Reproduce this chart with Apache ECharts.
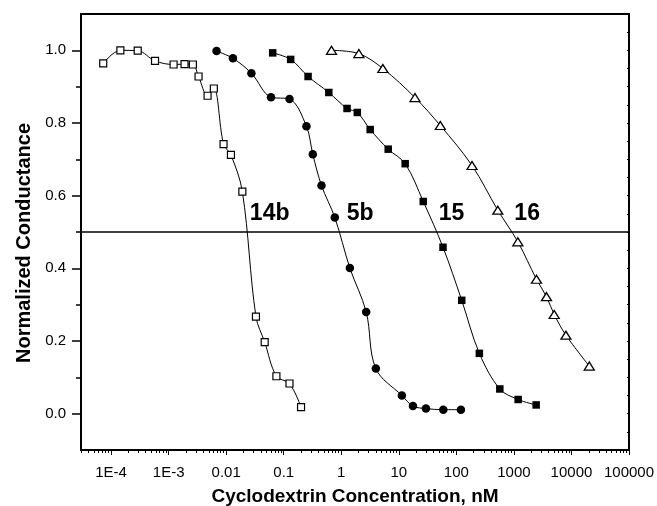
<!DOCTYPE html>
<html>
<head>
<meta charset="utf-8">
<script src="https://cdn.jsdelivr.net/npm/echarts@6/dist/echarts.min.js"></script>
<style>
html,body{margin:0;padding:0;background:#fff;}
#chart{width:657px;height:506px;}
</style>
</head>
<body>
<div id="chart"></div>
<script>
// ---- data (concentration in nM, normalized conductance) ----
var x14b = [7.3e-5, 1.45e-4, 2.9e-4, 5.8e-4, 1.22e-3, 1.89e-3, 2.64e-3, 3.31e-3, 4.75e-3, 6.1e-3, 9.0e-3, 0.0121, 0.0191, 0.0329, 0.0467, 0.0746, 0.126, 0.2];
var y14b = [0.964, 1.0, 0.999, 0.971, 0.961, 0.962, 0.961, 0.928, 0.875, 0.895, 0.742, 0.712, 0.611, 0.267, 0.197, 0.103, 0.083, 0.018];

var x5b = [6.8e-3, 0.0131, 0.0274, 0.0601, 0.126, 0.248, 0.32, 0.453, 0.772, 1.41, 2.71, 3.99, 11.3, 17.6, 29.6, 59.3, 120];
var y5b = [0.998, 0.978, 0.937, 0.871, 0.866, 0.791, 0.714, 0.628, 0.54, 0.401, 0.28, 0.124, 0.05, 0.021, 0.014, 0.011, 0.011];

var x15 = [0.0643, 0.132, 0.265, 0.607, 1.26, 1.9, 3.18, 6.54, 12.9, 26.6, 58.6, 124, 251, 569, 1184, 2436];
var y15 = [0.993, 0.975, 0.928, 0.884, 0.84, 0.829, 0.782, 0.728, 0.688, 0.584, 0.458, 0.312, 0.166, 0.068, 0.039, 0.024];

var x16 = [0.676, 2.02, 5.28, 19.1, 52.6, 187, 525, 1170, 2466, 3683, 5013, 8015, 20400];
var y16 = [1.0, 0.991, 0.95, 0.87, 0.793, 0.683, 0.56, 0.473, 0.37, 0.322, 0.273, 0.216, 0.131];

// curve annotations
var labelNames = ['14b', '5b', '15', '16'];
var labelX = [0.057, 2.13, 82.4, 1698];
var labelY = [0.55, 0.55, 0.55, 0.55];

// axis ticks
var xTickValues = [1e-4, 1e-3, 0.01, 0.1, 1, 10, 100, 1000, 10000, 100000];
var xTickLabels = ['1E-4', '1E-3', '0.01', '0.1', '1', '10', '100', '1000', '10000', '100000'];
var yTickValues = [0, 0.2, 0.4, 0.6, 0.8, 1.0];
var yMinorValues = [0.1, 0.3, 0.5, 0.7, 0.9];
var xMin = 3e-5, xMax = 1e5, yMin = -0.1, yMax = 1.1;
var refLevel = 0.5;

// ---- build ----
var L = function (v) { return Math.log10(v); };
function pairs(xs, ys) { return xs.map(function (x, i) { return [L(x), ys[i]]; }); }
var xMajor = xTickValues.map(L);
var xMinor = [];
for (var e = -5; e < 5; e++) {
  for (var k = 2; k <= 9; k++) {
    var v = k * Math.pow(10, e);
    if (v >= xMin && v <= xMax) xMinor.push(L(v));
  }
}
var labelMap = {};
xMajor.forEach(function (v, i) { labelMap[v.toFixed(3)] = xTickLabels[i]; });

var FONT = '"Liberation Sans", Arial, Helvetica, sans-serif';
var lineBase = { type: 'line', smooth: 0.35, lineStyle: { color: '#000', width: 1 }, z: 3, animation: false };

var chart = echarts.init(document.getElementById('chart'), null, { renderer: 'canvas' });
chart.setOption({
  backgroundColor: '#fff',
  animation: false,
  grid: { left: 81, right: 28, top: 14, bottom: 56, containLabel: false, outerBoundsMode: 'none',
    show: true, borderColor: '#000', borderWidth: 2, backgroundColor: 'transparent' },
  xAxis: [{
    type: 'value', min: L(xMin), max: L(xMax), position: 'bottom',
    name: 'Cyclodextrin Concentration, nM', nameLocation: 'middle', nameGap: 37,
    nameTextStyle: { fontFamily: FONT, fontWeight: 'bold', fontSize: 19, color: '#000' },
    axisLine: { show: true, onZero: false, lineStyle: { color: '#000', width: 2 } },
    axisTick: { show: true, length: 5, lineStyle: { color: '#000', width: 1 }, customValues: xMajor },
    axisLabel: { show: true, margin: 15, fontFamily: FONT, fontSize: 15, color: '#000', customValues: xMajor,
      formatter: function (v) { return labelMap[v.toFixed(3)] || ''; } },
    splitLine: { show: false }
  }, {
    type: 'value', min: L(xMin), max: L(xMax), position: 'bottom',
    axisLine: { show: false, onZero: false },
    axisTick: { show: true, length: 3, lineStyle: { color: '#000', width: 1 }, customValues: xMinor },
    axisLabel: { show: false },
    splitLine: { show: false }
  }],
  yAxis: [{
    type: 'value', min: yMin, max: yMax, position: 'left',
    name: 'Normalized Conductance', nameLocation: 'middle', nameGap: 46,
    nameTextStyle: { fontFamily: FONT, fontWeight: 'bold', fontSize: 20, color: '#000', padding: [0, 22, 0, 0] },
    axisLine: { show: true, onZero: false, lineStyle: { color: '#000', width: 2 } },
    axisTick: { show: true, length: 9, lineStyle: { color: '#000', width: 1.5 }, customValues: yTickValues },
    axisLabel: { show: true, margin: 15, fontFamily: FONT, fontSize: 15, color: '#000', customValues: yTickValues,
      formatter: function (v) { return v.toFixed(1); } },
    splitLine: { show: false }
  }, {
    type: 'value', min: yMin, max: yMax, position: 'left',
    axisLine: { show: false, onZero: false },
    axisTick: { show: true, length: 5, lineStyle: { color: '#000', width: 1.5 }, customValues: yMinorValues },
    axisLabel: { show: false },
    splitLine: { show: false }
  }, {
    type: 'value', min: yMin, max: yMax, position: 'right', interval: 0.05,
    axisLine: { show: true, onZero: false, lineStyle: { color: '#000', width: 2 } },
    axisTick: { show: true, inside: true, length: 2, lineStyle: { color: '#000', width: 1 } },
    axisLabel: { show: false },
    splitLine: { show: false }
  }],
  series: [
    Object.assign({}, lineBase, {
      name: '14b', data: pairs(x14b, y14b), symbol: 'rect', symbolSize: 7,
      itemStyle: { color: '#fff', borderColor: '#000', borderWidth: 1.2 },
      markLine: { silent: true, symbol: 'none', label: { show: false },
        lineStyle: { color: '#000', width: 1.5, type: 'solid' }, data: [{ yAxis: refLevel }] }
    }),
    Object.assign({}, lineBase, {
      name: '5b', data: pairs(x5b, y5b), symbol: 'circle', symbolSize: 8.5,
      itemStyle: { color: '#000', borderColor: '#000', borderWidth: 0 }
    }),
    Object.assign({}, lineBase, {
      name: '15', data: pairs(x15, y15), symbol: 'rect', symbolSize: 7.5,
      itemStyle: { color: '#000', borderColor: '#000', borderWidth: 0 }
    }),
    Object.assign({}, lineBase, {
      name: '16', data: pairs(x16, y16), symbol: 'triangle', symbolSize: [10, 8],
      itemStyle: { color: '#fff', borderColor: '#000', borderWidth: 1.3 }
    }),
    {
      type: 'scatter', name: 'labels', symbolSize: 1, z: 5, animation: false, silent: true,
      itemStyle: { opacity: 0 },
      data: labelNames.map(function (n, i) { return { name: n, value: [L(labelX[i]), labelY[i]] }; }),
      label: { show: true, position: 'inside', formatter: '{b}', fontFamily: FONT, fontWeight: 'bold', fontSize: 23,
        color: '#000', opacity: 1, textBorderWidth: 0 }
    }
  ]
});
</script>
</body>
</html>
